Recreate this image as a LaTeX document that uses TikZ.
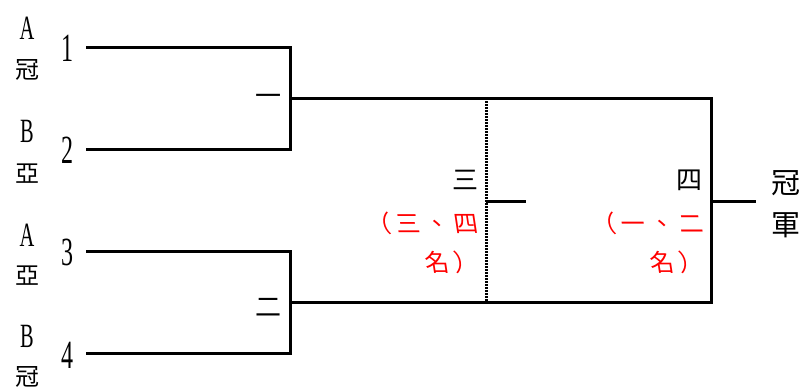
\documentclass[tikz,border=0pt]{standalone}
\usepackage{fontspec}
\newfontfamily\cjk{Noto Sans CJK TC}
\newfontfamily\cjkr[LetterSpace=20]{Noto Sans CJK TC}
\newfontfamily\serifnum{Liberation Serif}
\begin{document}
\begin{tikzpicture}[x=1pt,y=-1pt,
  wire/.style={line width=3pt},
  dots/.style={line width=3pt,dash pattern=on 1.5pt off 1.5pt},
  num/.style={inner sep=0pt,font=\serifnum\fontsize{40}{40}\selectfont},
  lat/.style={inner sep=0pt,font=\serifnum\fontsize{34}{34}\selectfont},
  zh/.style={inner sep=0pt,font=\cjk\fontsize{24}{24}\selectfont},
  zhb/.style={inner sep=0pt,font=\cjk\fontsize{26}{26}\selectfont},
  zhr/.style={inner sep=0pt,font=\cjkr\fontsize{24}{24}\selectfont,text=red,anchor=east,xslant=-0.15}]
\useasboundingbox (0,0) rectangle (805,389);
% endpoints
\coordinate (p1) at (86,47);
\coordinate (p2) at (86,149);
\coordinate (p3) at (86,251);
\coordinate (p4) at (86,353);
\coordinate (m1a) at (290,47);
\coordinate (m1b) at (290,149);
\coordinate (m1) at (290,98);
\coordinate (m2a) at (290,251);
\coordinate (m2b) at (290,353);
\coordinate (m2) at (290,302);
\coordinate (f1) at (711,98);
\coordinate (f2) at (711,302);
\coordinate (f) at (711,201);
\coordinate (win) at (756,201);
\coordinate (t1) at (486,98);
\coordinate (t2) at (486,302);
\coordinate (t) at (486,201);
\coordinate (tout) at (526,201);
% wires
\draw[wire] (p1) -- (m1a) -- (m1b) -- (p2);
\draw[wire] (p3) -- (m2a) -- (m2b) -- (p4);
\draw[wire] (m1) -- (f1) -- (f2) -- (m2);
\draw[wire] (f) -- (win);
\draw[dots] (t1) -- (t2);
\draw[wire] (t) -- (tout);
% numbers
\node[num] (n1) at (67,48) {\scalebox{0.6}[1]{1}};
\node[num] (n2) at (67,150) {\scalebox{0.6}[1]{2}};
\node[num] (n3) at (67,252) {\scalebox{0.6}[1]{3}};
\node[num] (n4) at (67,355) {\scalebox{0.6}[1]{4}};
% left labels
\node[lat] (a1) at (27,28) {\scalebox{0.6}[1]{A}};
\node[zh] (c1) at (27,70) {冠};
\node[lat] (b1) at (27,131) {\scalebox{0.6}[1]{B}};
\node[zh] (y1) at (27,174) {亞};
\node[lat] (a2) at (27,235) {\scalebox{0.6}[1]{A}};
\node[zh] (y2) at (27,276) {亞};
\node[lat] (b2) at (27,336) {\scalebox{0.6}[1]{B}};
\node[zh] (c2) at (27,377) {冠};
% round labels
\node[zhb] (r1) at (268,100) {一};
\node[zhb] (r2) at (268,307) {二};
\node[zhb] (r3) at (465,180) {三};
\node[zhb] (r4) at (689,180) {四};
\node[zhr] (s3a) at (478,223) {（三、四};
\node[zhr] (s3b) at (478,262) {名）};
\node[zhr] (s4a) at (703,223) {（一、二};
\node[zhr] (s4b) at (703,262) {名）};
\node[inner sep=0pt,font=\cjk\fontsize{29}{29}\selectfont] (w1) at (786,183) {冠};
\node[inner sep=0pt,font=\cjk\fontsize{29}{29}\selectfont] (w2) at (786,225) {軍};
\end{tikzpicture}
\end{document}
